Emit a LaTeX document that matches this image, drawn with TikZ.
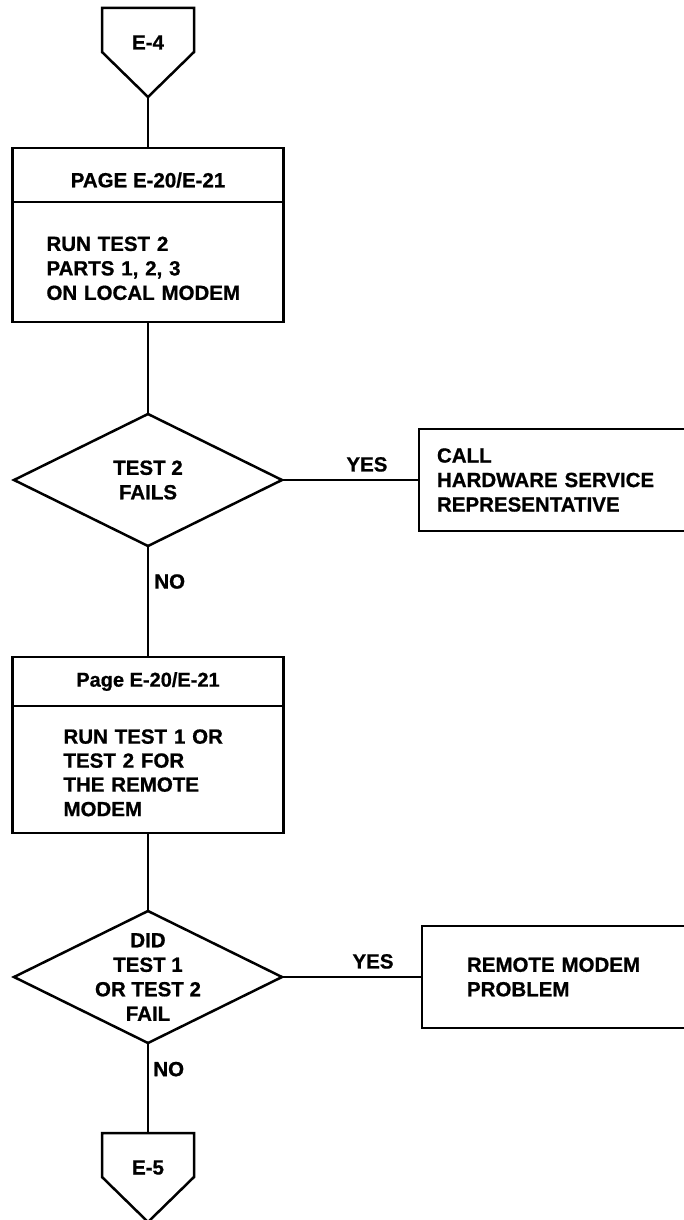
\documentclass[tikz,border=0pt]{standalone}
\usepackage{fontspec}
\setmainfont{Liberation Sans}[BoldFeatures={FakeBold=0.8}]
\usetikzlibrary{positioning, shapes.geometric}

\begin{document}
\begin{tikzpicture}[x=1pt, y=-1pt, line width=2.5pt,
	font=\fontsize{20.5}{24.5}\selectfont\bfseries,
	every node/.style={outer sep=0pt},
	offpage/.style={minimum width=92pt, minimum height=44pt, inner sep=0pt, text height=40pt, text depth=1pt},
	pagebox/.style={draw, minimum width=271pt, inner sep=0pt, align=center},
	stepbox/.style={draw, minimum width=271pt, inner ysep=0pt, align=left},
	decision/.style={draw, diamond, minimum width=268pt, minimum height=132pt, inner sep=0pt},
	dectext/.style={align=center, inner sep=0pt},
	result/.style={draw, minimum width=280pt, minimum height=102pt, inner ysep=0pt, align=left},
	link/.style={line width=2.5pt}]

	\useasboundingbox[fill=white] (0,0) rectangle (683,1220);

	\node[offpage] (e4_in) at (148,30) {E-4};
	\draw (e4_in.north west) -- (e4_in.north east) -- (e4_in.south east)
		-- ++(-46,45) coordinate (e4_tip) -- (e4_in.south west) -- cycle;

	\node[pagebox, minimum height=54pt, below=96pt of e4_in] (page_hdr1) {\rule{0pt}{25pt}PAGE E-20/E-21};
	\node[stepbox, minimum height=120pt, inner xsep=34pt, text width=203pt, below=0pt of page_hdr1] (step_box1)
		{\rule{0pt}{27pt}RUN TEST 2\\PARTS 1, 2, 3\\ON LOCAL MODEM};

	\node[decision, below=92pt of step_box1] (test2_dec) {};
	\node[dectext] (test2_txt) at (test2_dec) {\fontsize{20.5}{23}\selectfont TEST 2\\FAILS};
	\node[result, inner xsep=18pt, text width=244pt, right=137pt of test2_dec] (call_hw)
		{CALL\\HARDWARE SERVICE\\REPRESENTATIVE};

	\node[pagebox, minimum height=49pt, below=111pt of test2_dec] (page_hdr2)
		{\fontsize{20}{24}\selectfont Page E-20/E-21};
	\node[stepbox, minimum height=127pt, inner xsep=51pt, text width=169pt, below=0pt of page_hdr2] (step_box2)
		{\fontsize{20.5}{24}\selectfont\rule{0pt}{21pt}RUN TEST 1 OR\\TEST 2 FOR\\THE REMOTE\\MODEM};

	\node[decision, below=78pt of step_box2] (fail_dec) {};
	\node[dectext] (fail_txt) at (fail_dec) {DID\\TEST 1\\OR TEST 2\\FAIL};
	\node[result, inner xsep=45pt, text width=190pt, right=140pt of fail_dec] (remote_prob)
		{REMOTE MODEM\\PROBLEM};

	\node[offpage, below=90pt of fail_dec] (e5_out) {E-5};
	\draw (e5_out.north west) -- (e5_out.north east) -- (e5_out.south east)
		-- ++(-46,45) coordinate (e5_tip) -- (e5_out.south west) -- cycle;

	% main column
	\draw[link] (e4_tip) -- (page_hdr1.north);
	\draw[link] (step_box1.south) -- (test2_dec.north);
	\draw[link] (test2_dec.south) -- node[pos=.32, right=3pt] (no_1) {NO} (page_hdr2.north);
	\draw[link] (step_box2.south) -- (fail_dec.north);
	\draw[link] (fail_dec.south) -- node[pos=.29, right=2pt] (no_2) {NO} (e5_out.north);

	% yes branches
	\draw[link] (test2_dec.east) -- node[pos=.62, above=5pt] (yes_1) {YES} (call_hw.west);
	\draw[link] (fail_dec.east) -- node[pos=.65, above=5pt] (yes_2) {YES} (remote_prob.west);
\end{tikzpicture}
\end{document}
